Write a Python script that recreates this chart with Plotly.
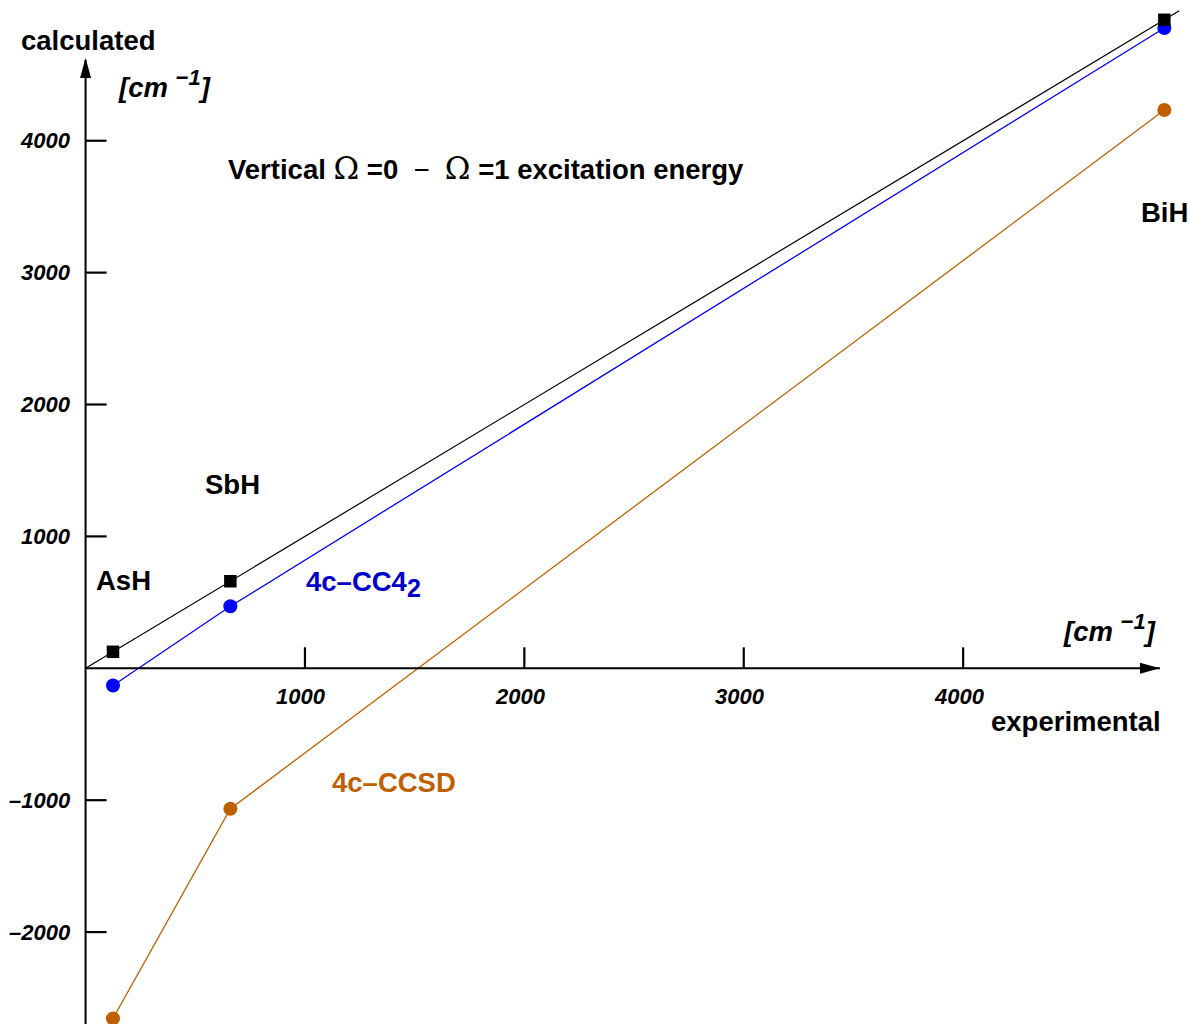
import plotly.graph_objects as go

# ---- data (cm^-1) ----
molecules = ["AsH", "SbH", "BiH"]
experimental = [125, 660, 4917]
cc4_2 = [-130, 470, 4855]
ccsd = [-2655, -1065, 4233]
ident_line = [0, 4985]
x_ticks = [1000, 2000, 3000, 4000]
y_ticks = [-2000, -1000, 1000, 2000, 3000, 4000]
x_range = [-390, 5034]
y_range = [-2697, 5067]
x_tip = 4897
y_tip = 4612

W, H = 1190, 1024
FONT = "Liberation Sans, Arial, Helvetica, sans-serif"
BLUE = "rgb(0,0,255)"
BLUE_TXT = "rgb(0,0,200)"
ORANGE = "rgb(191,96,0)"

fig = go.Figure()

fig.add_trace(go.Scatter(x=ident_line, y=ident_line, mode="lines",
                         line=dict(color="black", width=1.2), hoverinfo="skip"))
fig.add_trace(go.Scatter(x=experimental, y=ccsd, mode="lines+markers",
                         line=dict(color=ORANGE, width=1.3),
                         marker=dict(color=ORANGE, size=14, symbol="circle")))
fig.add_trace(go.Scatter(x=experimental, y=cc4_2, mode="lines+markers",
                         line=dict(color=BLUE, width=1.3),
                         marker=dict(color=BLUE, size=14, symbol="circle")))
fig.add_trace(go.Scatter(x=experimental, y=experimental, mode="markers",
                         marker=dict(color="black", size=12.5, symbol="square")))

shapes = []
# axes lines
shapes.append(dict(type="line", xref="x", yref="y", x0=0, x1=x_tip, y0=0, y1=0,
                   line=dict(color="black", width=2)))
shapes.append(dict(type="line", xref="x", yref="y", x0=0, x1=0, y0=y_range[0] - 100, y1=y_tip,
                   line=dict(color="black", width=2)))
# arrow heads
shapes.append(dict(type="path", xref="x", yref="y", xsizemode="pixel", ysizemode="pixel",
                   xanchor=0, yanchor=y_tip, path="M 0,2 L -5.5,-18 L 5.5,-18 Z",
                   fillcolor="black", line=dict(width=0)))
shapes.append(dict(type="path", xref="x", yref="y", xsizemode="pixel", ysizemode="pixel",
                   xanchor=x_tip, yanchor=0, path="M 0,0 L -20,5.5 L -20,-5.5 Z",
                   fillcolor="black", line=dict(width=0)))
# tick marks
for v in x_ticks:
    shapes.append(dict(type="line", xref="x", yref="y", ysizemode="pixel", yanchor=0,
                       x0=v, x1=v, y0=0, y1=21, line=dict(color="black", width=2.2)))
for v in y_ticks:
    shapes.append(dict(type="line", xref="x", yref="y", xsizemode="pixel", xanchor=0,
                       x0=0, x1=21, y0=v, y1=v, line=dict(color="black", width=2.2)))

ann = []
def px(xp, yp):
    return xp / W, 1 - yp / H

def add_text(text, xp, yp, size=27.5, color="black", xanchor="center", italic=False):
    x, y = px(xp, yp)
    ann.append(dict(text=text, x=x, y=y, xref="paper", yref="paper", showarrow=False,
                    xanchor=xanchor, yanchor="middle",
                    font=dict(family=FONT, size=size, color=color, weight="bold",
                              style="italic" if italic else "normal")))

for v in y_ticks:
    ann.append(dict(text=f"{v}".replace("-", "–"), x=73 / W, y=v, xref="paper", yref="y",
                    showarrow=False, xanchor="right", yanchor="middle",
                    font=dict(family=FONT, size=22, color="black", weight="bold", style="italic")))
for v in x_ticks:
    ann.append(dict(text=f"{v}", x=v, y=1 - 696 / H, xref="x", yref="paper", xshift=-4,
                    showarrow=False, xanchor="center", yanchor="middle",
                    font=dict(family=FONT, size=22, color="black", weight="bold", style="italic")))

sup = "<sup><span style='font-size:22px'>−1</span></sup>"
add_text("calculated", 19, 40, xanchor="left")
add_text(f"[cm {sup}]", 116, 84, xanchor="left", italic=True)
add_text(f"[cm {sup}]", 1061, 628, xanchor="left", italic=True)
add_text("experimental", 989, 721, xanchor="left")
omega = "<span style='font-family:DejaVu Serif;font-weight:normal;font-size:31px'>Ω</span>"
minus = "<span style='font-weight:normal'>−</span>"
add_text(f"Vertical {omega} =0  {minus}  {omega} =1 excitation energy", 226, 168, xanchor="left")
add_text(molecules[2], 1139, 212, xanchor="left")
add_text(molecules[1], 203, 484, xanchor="left")
add_text(molecules[0], 94, 580, xanchor="left")
sub = "<sub><span style='font-size:25px'>2</span></sub>"
add_text(f"4c–CC4{sub}", 304, 584, color=BLUE_TXT, xanchor="left")
add_text("4c–CCSD", 330, 782, color=ORANGE, xanchor="left")

fig.update_layout(
    width=W, height=H, margin=dict(l=0, r=0, t=0, b=0),
    paper_bgcolor="white", plot_bgcolor="white", showlegend=False,
    xaxis=dict(range=x_range, visible=False, showgrid=False, zeroline=False),
    yaxis=dict(range=y_range, visible=False, showgrid=False, zeroline=False),
    shapes=shapes, annotations=ann,
)

fig.write_html("out.html")
